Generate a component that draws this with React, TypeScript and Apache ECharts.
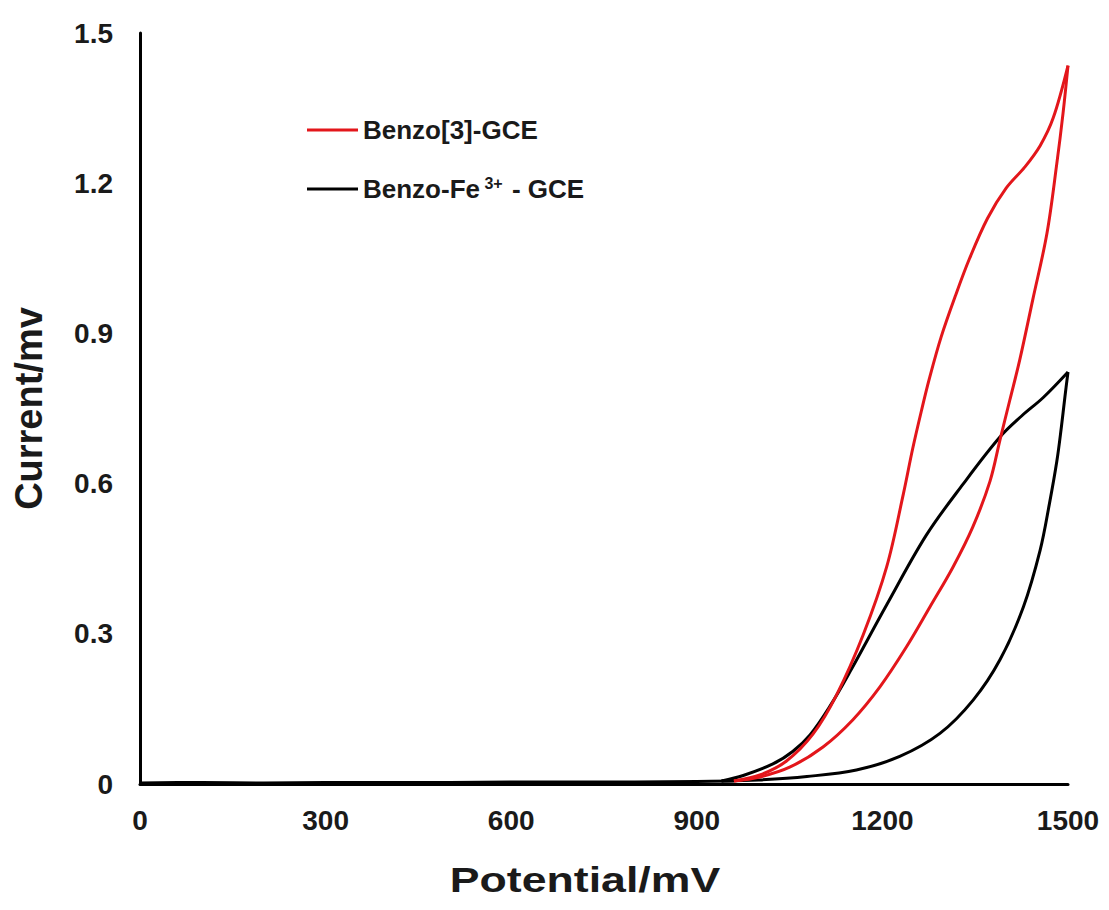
import React, { useEffect, useRef } from "react";
import * as echarts from "echarts";

// Tick labels
const xTicks = [0, 300, 600, 900, 1200, 1500];
const yTicks = [0, 0.3, 0.6, 0.9, 1.2, 1.5];

// Axis titles
const xTitle = "Potential/mV";
const yTitle = "Current/mv";

// Series names
const redName = "Benzo[3]-GCE";
const blackName = "Benzo-Fe3+ - GCE";

// Baseline (both electrodes, ~0 current below 950 mV)
const baseline: number[][] = [
  [0, 0.002], [100, 0.003], [200, 0.002], [300, 0.003], [400, 0.003],
  [500, 0.003], [600, 0.004], [700, 0.004], [800, 0.004], [900, 0.005], [960, 0.006],
];

// Benzo[3]-GCE : outer (upper) branch up to 1500 mV
const redUp: number[][] = [
  [960, 0.006], [1002, 0.018], [1045, 0.046], [1088, 0.1], [1126, 0.178],
  [1169, 0.298], [1207, 0.434], [1234, 0.58], [1249, 0.67], [1263, 0.745],
  [1276, 0.81], [1295, 0.893], [1318, 0.975], [1341, 1.05], [1370, 1.13],
  [1400, 1.19], [1430, 1.232], [1455, 1.275], [1476, 1.33], [1500, 1.435],
];
// Benzo[3]-GCE : inner (lower) branch back from 1500 mV
const redDown: number[][] = [
  [1500, 1.435], [1492, 1.34], [1482, 1.24], [1466, 1.1], [1443, 0.967],
  [1422, 0.847], [1406, 0.767], [1390, 0.687], [1374, 0.605], [1346, 0.513],
  [1314, 0.433], [1277, 0.354], [1239, 0.274], [1196, 0.194], [1152, 0.128],
  [1104, 0.074], [1051, 0.034], [1002, 0.014], [960, 0.006],
];

// Benzo-Fe3+ - GCE : outer (upper) branch
const blackUp: number[][] = [
  [940, 0.006], [975, 0.017], [1023, 0.04], [1055, 0.065], [1083, 0.098],
  [1115, 0.155], [1148, 0.225], [1207, 0.358], [1271, 0.497], [1331, 0.6],
  [1390, 0.693], [1425, 0.735], [1460, 0.772], [1500, 0.823],
];
// Benzo-Fe3+ - GCE : inner (lower) branch
const blackDown: number[][] = [
  [1500, 0.823], [1495, 0.773], [1489, 0.71], [1482, 0.645], [1470, 0.56],
  [1455, 0.467], [1428, 0.354], [1390, 0.248], [1347, 0.168], [1293, 0.101],
  [1228, 0.055], [1158, 0.028], [1078, 0.015], [1000, 0.008], [940, 0.006],
];

const RED = "#e3161b";
const BLACK = "#000000";
const FONT = "'Liberation Sans', Arial, sans-serif";
const TEXT = "#1a1a1a";

export default function App() {
  const ref = useRef<HTMLDivElement>(null);
  useEffect(() => {
    document.body.style.margin = "0";
    if (!ref.current) return;
    const chart = echarts.init(ref.current, undefined, { renderer: "svg" });
    const lineSeries = (name: string, data: number[][], color: string) => ({
      type: "line",
      name,
      data,
      smooth: 0.35,
      symbol: "none",
      showSymbol: false,
      lineStyle: { color, width: 3 },
      itemStyle: { color },
      z: color === RED ? 3 : 2,
    });
    const legendBase = {
      orient: "vertical",
      left: 307,
      padding: 0,
      icon: "rect",
      itemWidth: 51,
      itemHeight: 3,
    };
    chart.setOption({
      animation: false,
      backgroundColor: "#ffffff",
      textStyle: { fontFamily: FONT },
      grid: { left: 140, right: 41, top: 33, bottom: 126, containLabel: false },
      graphic: [
        {
          type: "text",
          x: 585,
          y: 862,
          scaleX: 1.24,
          style: {
            text: xTitle,
            fontFamily: FONT,
            fontSize: 36,
            fontWeight: "bold",
            fill: TEXT,
            align: "center",
            verticalAlign: "top",
          },
        },
      ],
      legend: [
        {
          ...legendBase,
          data: [redName],
          top: 117,
          textStyle: { fontFamily: FONT, fontSize: 26, fontWeight: "bold", color: TEXT },
        },
        {
          ...legendBase,
          data: [blackName],
          top: 175,
          formatter: () => "Benzo-Fe{sup| 3+} - GCE",
          textStyle: {
            fontFamily: FONT,
            fontSize: 26,
            fontWeight: "bold",
            color: TEXT,
            rich: {
              sup: { fontFamily: FONT, fontSize: 16, fontWeight: "bold", color: TEXT, padding: [0, 2, 12, 0] },
            },
          },
        },
      ],
      xAxis: {
        type: "value",
        min: xTicks[0],
        max: xTicks[xTicks.length - 1],
        interval: xTicks[1] - xTicks[0],
        axisLine: { show: true, lineStyle: { color: BLACK, width: 3 } },
        axisTick: { show: false },
        splitLine: { show: false },
        axisLabel: {
          fontFamily: FONT,
          fontSize: 28,
          fontWeight: "bold",
          color: TEXT,
          margin: 22,
          formatter: (v: number) => String(v),
        },
      },
      yAxis: {
        type: "value",
        min: yTicks[0],
        max: yTicks[yTicks.length - 1],
        interval: 0.3,
        name: yTitle,
        nameLocation: "middle",
        nameRotate: 90,
        nameGap: 92,
        nameTextStyle: { fontFamily: FONT, fontSize: 38, fontWeight: "bold", color: TEXT },
        axisLine: { show: true, lineStyle: { color: BLACK, width: 3 } },
        axisTick: { show: false },
        splitLine: { show: false },
        axisLabel: {
          fontFamily: FONT,
          fontSize: 28,
          fontWeight: "bold",
          color: TEXT,
          margin: 27,
          formatter: (v: number) => {
            const t = yTicks.find((y) => Math.abs(y - v) < 1e-6);
            return t === undefined ? "" : String(t);
          },
        },
      },
      series: [
        lineSeries(blackName, baseline, BLACK),
        lineSeries(blackName, blackUp, BLACK),
        lineSeries(blackName, blackDown, BLACK),
        lineSeries(redName, redUp, RED),
        lineSeries(redName, redDown, RED),
      ],
    });
    return () => chart.dispose();
  }, []);
  return <div ref={ref} style={{ width: 1109, height: 910 }} />;
}
